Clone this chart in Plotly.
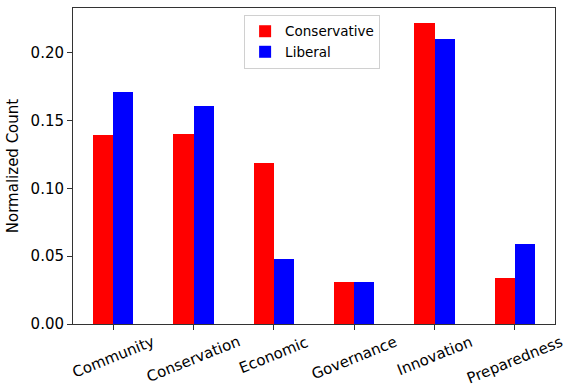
import plotly.graph_objects as go

categories = ["Community", "Conservation", "Economic", "Governance", "Innovation", "Preparedness"]
conservative = [0.139, 0.140, 0.119, 0.031, 0.222, 0.034]
liberal = [0.171, 0.161, 0.048, 0.031, 0.210, 0.059]
yticks = [0.00, 0.05, 0.10, 0.15, 0.20]

FONT = "DejaVu Sans"
idx = list(range(len(categories)))
w = 0.25

fig = go.Figure()
fig.add_trace(go.Bar(x=[i - w / 2 for i in idx], y=conservative, width=w, name="Conservative",
                     marker=dict(color="#ff0000", line=dict(width=0))))
fig.add_trace(go.Bar(x=[i + w / 2 for i in idx], y=liberal, width=w, name="Liberal",
                     marker=dict(color="#0000ff", line=dict(width=0))))

for i, c in enumerate(categories):
    fig.add_annotation(x=i, y=0, xref="x", yref="paper", text=c, showarrow=False,
                       textangle=-22, xanchor="center", yanchor="top", yshift=-6,
                       font=dict(family=FONT, size=15, color="#000"))

fig.update_layout(
    width=572, height=387,
    margin=dict(l=73, r=17, t=8, b=63),
    paper_bgcolor="white", plot_bgcolor="white",
    bargap=0, barmode="overlay",
    font=dict(family=FONT, size=14, color="#000"),
    showlegend=True,
    legend=dict(x=0.355, y=0.978, xanchor="left", yanchor="top",
                bgcolor="rgba(255,255,255,0.8)", bordercolor="#d0d0d0", borderwidth=1,
                font=dict(family=FONT, size=13.5), traceorder="normal",
                itemwidth=30),
    xaxis=dict(range=[-0.5, 5.5], tickvals=idx, ticktext=[""] * len(idx), showgrid=False,
               zeroline=False, showline=True, linecolor="#333", linewidth=1, mirror=True,
               ticks="outside", ticklen=5, tickcolor="#333"),
    yaxis=dict(range=[0, 0.233], tickvals=yticks, tickformat=".2f", showgrid=False,
               zeroline=False, showline=True, linecolor="#333", linewidth=1, mirror=True,
               ticks="outside", ticklen=5, tickcolor="#333",
               tickfont=dict(family=FONT, size=15),
               title=dict(text="Normalized Count", font=dict(family=FONT, size=15), standoff=8)),
)

fig.write_html("out.html")
